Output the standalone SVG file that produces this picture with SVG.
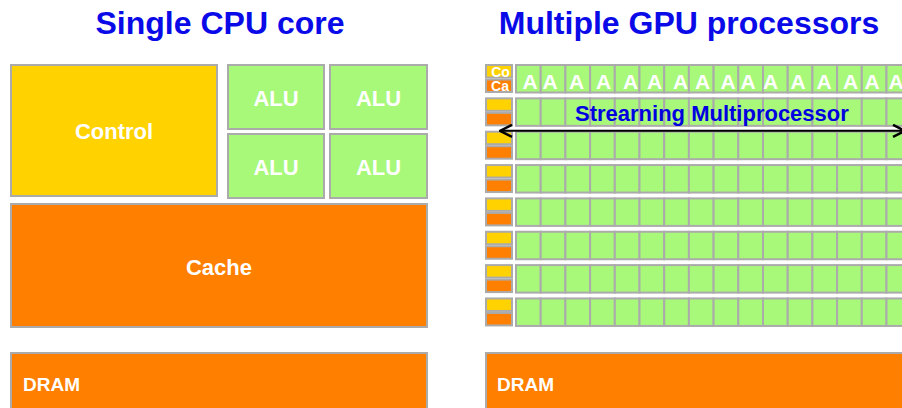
<svg xmlns="http://www.w3.org/2000/svg" xmlns:xlink="http://www.w3.org/1999/xlink" width="902" height="408" viewBox="0 0 902 408">
<style>
.title{font-family:"Liberation Sans",Arial,sans-serif;font-weight:bold;font-size:32px;fill:#0A0AE8;text-anchor:middle}
.lbl{font-family:"Liberation Sans",Arial,sans-serif;font-weight:bold;font-size:22px;fill:#FFFFFF;text-anchor:middle}
.lbll{font-family:"Liberation Sans",Arial,sans-serif;font-weight:bold;font-size:19px;fill:#FFFFFF}
.a{font-family:"Liberation Sans",Arial,sans-serif;font-weight:bold;font-size:21px;fill:#FFFFFF;text-anchor:middle}
.sm{font-family:"Liberation Sans",Arial,sans-serif;font-weight:bold;font-size:14px;fill:#FFFFFF;text-anchor:middle}
.sml{font-family:"Liberation Sans",Arial,sans-serif;font-weight:bold;font-size:22px;fill:#0000E0}
.yel{fill:#FFD200;stroke:#ABABAB;stroke-width:2}
.org{fill:#FF7F00;stroke:#ABABAB;stroke-width:2}
.grn{fill:#A8F87A;stroke:#ABABAB;stroke-width:2}
</style>
<defs>
<g id="cellrow">
<rect class="grn" x="516" y="0" width="24.7" height="27.5"/>
<rect class="grn" x="540.7" y="0" width="24.7" height="27.5"/>
<rect class="grn" x="565.4" y="0" width="24.7" height="27.5"/>
<rect class="grn" x="590.1" y="0" width="24.7" height="27.5"/>
<rect class="grn" x="614.8" y="0" width="24.7" height="27.5"/>
<rect class="grn" x="639.5" y="0" width="24.7" height="27.5"/>
<rect class="grn" x="664.2" y="0" width="24.7" height="27.5"/>
<rect class="grn" x="688.9" y="0" width="24.7" height="27.5"/>
<rect class="grn" x="713.6" y="0" width="24.7" height="27.5"/>
<rect class="grn" x="738.3" y="0" width="24.7" height="27.5"/>
<rect class="grn" x="763" y="0" width="24.7" height="27.5"/>
<rect class="grn" x="787.7" y="0" width="24.7" height="27.5"/>
<rect class="grn" x="812.4" y="0" width="24.7" height="27.5"/>
<rect class="grn" x="837.1" y="0" width="24.7" height="27.5"/>
<rect class="grn" x="861.8" y="0" width="24.7" height="27.5"/>
<rect class="grn" x="886.5" y="0" width="24.7" height="27.5"/>
</g>
<g id="ctrlcache">
<rect class="yel" x="486" y="0" width="26" height="12.5"/>
<rect class="org" x="486" y="14.5" width="26" height="12.5"/>
</g>
<marker id="chev" viewBox="0 0 14 14" refX="13" refY="7" markerWidth="14" markerHeight="14" markerUnits="userSpaceOnUse" orient="auto-start-reverse">
<polyline points="1,1 13,7 1,13" fill="none" stroke="#000" stroke-width="2.5"/>
</marker>
</defs>
<rect x="0" y="0" width="902" height="408" fill="#FFFFFF"/>

<g id="titles">
<text class="title" x="220" y="34">Single CPU core</text>
<text class="title" x="689" y="34">Multiple GPU processors</text>
</g>

<g id="cpu-control">
<rect class="yel" x="11" y="65" width="206" height="131"/>
<text class="lbl" x="114" y="139">Control</text>
</g>
<g id="cpu-alu1">
<rect class="grn" x="228" y="65" width="96" height="64"/>
<text class="lbl" x="276" y="106">ALU</text>
</g>
<g id="cpu-alu2">
<rect class="grn" x="330" y="65" width="97" height="64"/>
<text class="lbl" x="378.5" y="106">ALU</text>
</g>
<g id="cpu-alu3">
<rect class="grn" x="228" y="134" width="96" height="64"/>
<text class="lbl" x="276" y="175">ALU</text>
</g>
<g id="cpu-alu4">
<rect class="grn" x="330" y="134" width="97" height="64"/>
<text class="lbl" x="378.5" y="175">ALU</text>
</g>
<g id="cpu-cache">
<rect class="org" x="11" y="204" width="416" height="123"/>
<text class="lbl" x="219" y="275">Cache</text>
</g>
<g id="cpu-dram">
<rect class="org" x="11" y="353" width="416" height="60"/>
<text class="lbll" x="23" y="391">DRAM</text>
</g>

<g id="gpu-sm1">
<use xlink:href="#ctrlcache" y="65"/>
<use xlink:href="#cellrow" y="65"/>
<text class="sm" x="500.5" y="76.5">Co</text>
<text class="sm" x="500" y="91">Ca</text>
<text class="a" x="530" y="88.5">A</text>
<text class="a" x="550" y="88.5">A</text>
<text class="a" x="576.5" y="88.5">A</text>
<text class="a" x="603.5" y="88.5">A</text>
<text class="a" x="630.5" y="88.5">A</text>
<text class="a" x="654.5" y="88.5">A</text>
<text class="a" x="680.5" y="88.5">A</text>
<text class="a" x="702.5" y="88.5">A</text>
<text class="a" x="728" y="88.5">A</text>
<text class="a" x="748" y="88.5">A</text>
<text class="a" x="770.7" y="88.5">A</text>
<text class="a" x="798" y="88.5">A</text>
<text class="a" x="824" y="88.5">A</text>
<text class="a" x="850.7" y="88.5">A</text>
<text class="a" x="872" y="88.5">A</text>
<text class="a" x="896" y="88.5">A</text>
</g>
<g id="gpu-sm2">
<use xlink:href="#ctrlcache" y="98.35"/>
<use xlink:href="#cellrow" y="98.35"/>
<text class="sml" x="575" y="121.3">Strearning Multiprocessor</text>
</g>
<g id="gpu-sm3">
<use xlink:href="#ctrlcache" y="131.7"/>
<use xlink:href="#cellrow" y="131.7"/>
</g>
<g id="gpu-sm4">
<use xlink:href="#ctrlcache" y="165.05"/>
<use xlink:href="#cellrow" y="165.05"/>
</g>
<g id="gpu-sm5">
<use xlink:href="#ctrlcache" y="198.4"/>
<use xlink:href="#cellrow" y="198.4"/>
</g>
<g id="gpu-sm6">
<use xlink:href="#ctrlcache" y="231.75"/>
<use xlink:href="#cellrow" y="231.75"/>
</g>
<g id="gpu-sm7">
<use xlink:href="#ctrlcache" y="265.1"/>
<use xlink:href="#cellrow" y="265.1"/>
</g>
<g id="gpu-sm8">
<use xlink:href="#ctrlcache" y="298.45"/>
<use xlink:href="#cellrow" y="298.45"/>
</g>
<g id="gpu-dram">
<rect class="org" x="486" y="353" width="420" height="60"/>
<text class="lbll" x="497" y="391">DRAM</text>
</g>

<g id="connectors">
<line x1="500" y1="130.8" x2="905" y2="130.8" stroke="#000" stroke-width="2" marker-start="url(#chev)" marker-end="url(#chev)"/>
</g>
</svg>
